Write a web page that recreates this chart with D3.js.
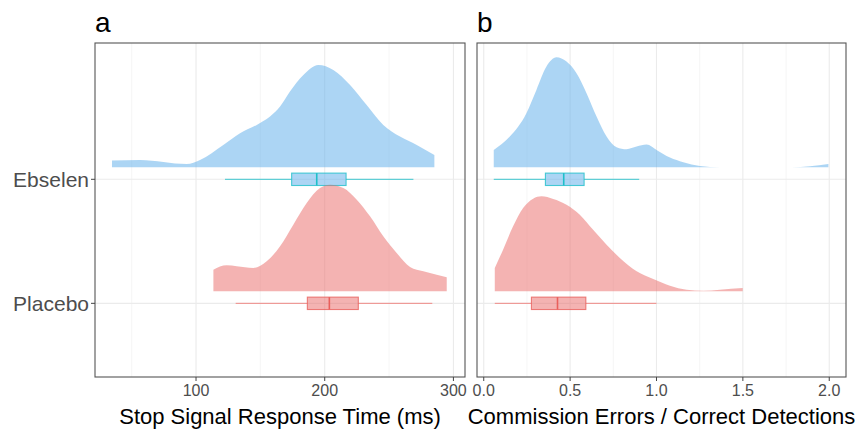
<!DOCTYPE html>
<html><head><meta charset="utf-8">
<script src="https://cdn.jsdelivr.net/npm/d3@7"></script>
<style>body{margin:0;background:#fff}svg{display:block}text{font-family:"Liberation Sans",Arial,sans-serif}</style>
</head><body><div id="chart"></div>
<script>
// ---- data ----
const groups = ["Ebselen", "Placebo"];
const panelLabels = ["a", "b"];
const xTitles = ["Stop Signal Response Time (ms)", "Commission Errors / Correct Detections"];
const ticksA = [100, 200, 300];
const minorA = [50, 150, 250];
const ticksB = [0, 0.5, 1.0, 1.5, 2.0];
const minorB = [0.25, 0.75, 1.25, 1.75];

// Panel a: SSRT density (x values, relative density)
const ssrtEbsX = [34.7, 56.5, 92.8, 103.1, 121.2, 134.2, 147.2, 157.5, 165.3, 173, 183.4, 195, 206.7, 219.7, 232.6, 245.5, 258.5, 271.5, 285.2];
const ssrtEbsD = [20, 22, 10, 22, 67, 102, 127, 152, 182, 227, 277, 307, 292, 247, 187, 127, 92, 67, 37];
const ssrtPlaX = [113.5, 123.8, 131.6, 144.5, 154.9, 165.3, 175.6, 186, 196.3, 204.1, 214.5, 224.9, 235.2, 245.5, 255.9, 266.3, 276.6, 287, 294.8];
const ssrtPlaD = [65, 78, 75, 70, 90, 135, 200, 265, 310, 320, 310, 275, 225, 165, 115, 73, 60, 50, 42];
// boxplot stats: [whiskerLow, q1, median, q3, whiskerHigh]
const ssrtEbsBox = [122.5, 174.3, 193.8, 216.6, 268.9];
const ssrtPlaBox = [130.8, 186.5, 203.6, 226.1, 283.6];

// Panel b: commission errors / correct detections
const ceEbsX = [0.058, 0.151, 0.247, 0.305, 0.363, 0.421, 0.479, 0.537, 0.595, 0.653, 0.711, 0.769, 0.827, 0.885, 0.943, 1.0, 1.078, 1.155, 1.251, 1.367, 1.783, 1.995];
const ceEbsD = [52, 92, 162, 232, 302, 330, 317, 282, 222, 152, 92, 60, 54, 62, 68, 52, 29, 15, 4, 0, 0, 10];
const cePlaX = [0.064, 0.112, 0.170, 0.228, 0.286, 0.334, 0.402, 0.479, 0.556, 0.633, 0.711, 0.788, 0.885, 0.981, 1.078, 1.174, 1.271, 1.367, 1.499];
const cePlaD = [70, 125, 195, 250, 278, 285, 277, 260, 230, 185, 140, 100, 60, 37, 17, 5, 2, 5, 10];
const ceEbsBox = [0.058, 0.357, 0.463, 0.581, 0.900];
const cePlaBox = [0.064, 0.276, 0.427, 0.591, 1.0];

// ---- layout ----
const W = 855, H = 431;
const topY = 43, bottomY = 377;
const panels = [
  {x0: 95, x1: 465, domain: [21.5, 309], ticks: ticksA, minor: minorA, fmt: d3.format("d"),
   series: [{g: "Ebselen", xs: ssrtEbsX, ds: ssrtEbsD, box: ssrtEbsBox}, {g: "Placebo", xs: ssrtPlaX, ds: ssrtPlaD, box: ssrtPlaBox}]},
  {x0: 477, x1: 846, domain: [-0.039, 2.097], ticks: ticksB, minor: minorB, fmt: d3.format(".1f"),
   series: [{g: "Ebselen", xs: ceEbsX, ds: ceEbsD, box: ceEbsBox}, {g: "Placebo", xs: cePlaX, ds: cePlaD, box: cePlaBox}]}
];
const colors = {
  Ebselen: {fill: "#5aabea", stroke: "#1fbfca", whisker: "#3cc6cf"},
  Placebo: {fill: "#ea6865", stroke: "#e9605c", whisker: "#ef8a86"}
};
const catIndex = {Ebselen: 2, Placebo: 1};

const svg = d3.select("#chart").append("svg").attr("width", W).attr("height", H);
const y = d3.scaleLinear().domain([0.406, 3.099]).range([bottomY, topY]);
const hScale = d3.scaleLinear().domain([0, 300]).range([0, 100]);
const baseOffset = 0.097, boxHalf = 0.05;

panels.forEach((p, pi) => {
  const x = d3.scaleLinear().domain(p.domain).range([p.x0, p.x1]);
  const g = svg.append("g");
  // grid
  g.selectAll(".minor").data(p.minor).join("line")
    .attr("x1", d => x(d)).attr("x2", d => x(d)).attr("y1", topY).attr("y2", bottomY)
    .attr("stroke", "#f0f0f0").attr("stroke-width", 0.7);
  g.selectAll(".major").data(p.ticks).join("line")
    .attr("x1", d => x(d)).attr("x2", d => x(d)).attr("y1", topY).attr("y2", bottomY)
    .attr("stroke", "#ebebeb").attr("stroke-width", 1.1);
  g.selectAll(".hgrid").data(groups).join("line")
    .attr("x1", p.x0).attr("x2", p.x1).attr("y1", d => y(catIndex[d])).attr("y2", d => y(catIndex[d]))
    .attr("stroke", "#ebebeb").attr("stroke-width", 1.1);

  p.series.forEach(s => {
    const c = colors[s.g];
    const base = y(catIndex[s.g] + baseOffset);
    const pts = s.xs.map((v, i) => [v, s.ds[i]]);
    const area = d3.area().curve(d3.curveMonotoneX)
      .x(d => x(d[0])).y0(base).y1(d => base - hScale(d[1]));
    g.append("path").attr("d", area(pts)).attr("fill", c.fill).attr("fill-opacity", 0.5);
    // boxplot
    const cy = y(catIndex[s.g]);
    const bt = y(catIndex[s.g] + boxHalf), bb = y(catIndex[s.g] - boxHalf);
    const b = s.box;
    g.append("line").attr("x1", x(b[0])).attr("x2", x(b[1])).attr("y1", cy).attr("y2", cy)
      .attr("stroke", c.whisker).attr("stroke-width", 1);
    g.append("line").attr("x1", x(b[3])).attr("x2", x(b[4])).attr("y1", cy).attr("y2", cy)
      .attr("stroke", c.whisker).attr("stroke-width", 1);
    g.append("rect").attr("x", x(b[1])).attr("width", x(b[3]) - x(b[1]))
      .attr("y", bt).attr("height", bb - bt)
      .attr("fill", c.fill).attr("fill-opacity", 0.5)
      .attr("stroke", c.stroke).attr("stroke-width", 1.1).attr("stroke-opacity", 0.8);
    g.append("line").attr("x1", x(b[2])).attr("x2", x(b[2])).attr("y1", bt).attr("y2", bb)
      .attr("stroke", c.stroke).attr("stroke-width", 1.6);
  });

  // border
  g.append("rect").attr("x", p.x0).attr("y", topY).attr("width", p.x1 - p.x0).attr("height", bottomY - topY)
    .attr("fill", "none").attr("stroke", "#555").attr("stroke-width", 1.1);
  // x axis ticks + labels
  g.selectAll(".xt").data(p.ticks).join("line")
    .attr("x1", d => x(d)).attr("x2", d => x(d)).attr("y1", bottomY).attr("y2", bottomY + 4)
    .attr("stroke", "#444").attr("stroke-width", 1);
  g.selectAll(".xl").data(p.ticks).join("text")
    .attr("x", d => x(d)).attr("y", 396).attr("text-anchor", "middle")
    .attr("font-size", 16).attr("fill", "#4d4d4d").text(d => p.fmt(d));
  g.append("text").attr("x", (p.x0 + p.x1) / 2).attr("y", 424).attr("text-anchor", "middle")
    .attr("font-size", 22).attr("fill", "#000").text(xTitles[pi]);
  g.append("text").attr("x", p.x0).attr("y", 32).attr("font-size", 28).attr("fill", "#000").text(panelLabels[pi]);

  if (pi === 0) {
    g.selectAll(".yt").data(groups).join("line")
      .attr("x1", p.x0 - 4).attr("x2", p.x0).attr("y1", d => y(catIndex[d])).attr("y2", d => y(catIndex[d]))
      .attr("stroke", "#444").attr("stroke-width", 1);
    g.selectAll(".yl").data(groups).join("text")
      .attr("x", p.x0 - 6).attr("y", d => y(catIndex[d])).attr("dy", "0.36em")
      .attr("text-anchor", "end").attr("font-size", 21).attr("fill", "#4d4d4d").text(d => d);
  }
});
</script></body></html>
